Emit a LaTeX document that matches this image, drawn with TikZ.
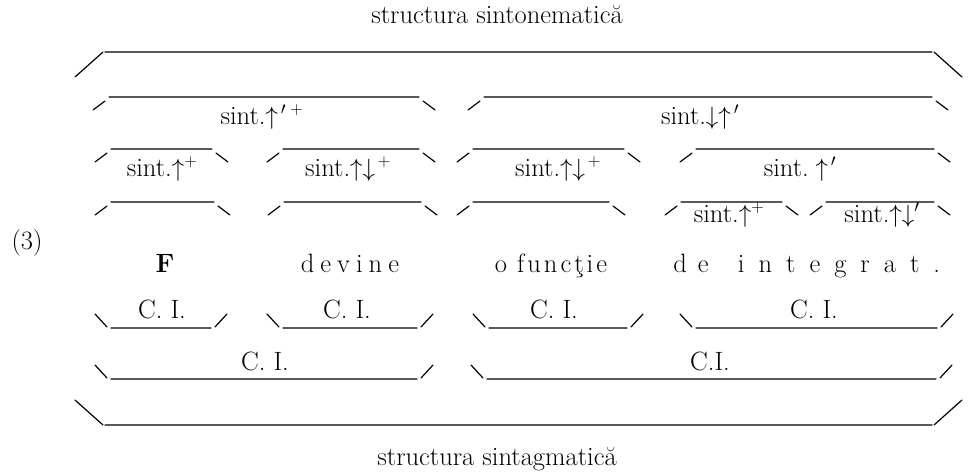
\documentclass[tikz,border=0pt]{standalone}
\usepackage{fontspec}
\newcommand\upgen[8]{%
  \coordinate (#1-a) at ({#2},{#4+#7+#6});
  \coordinate (#1-b) at ({#2+#5},{#4+#7});
  \coordinate (#1-c) at ({#2+#5+#8},{#4});
  \coordinate (#1-d) at ({#3-#5-#8},{#4});
  \coordinate (#1-e) at ({#3-#5},{#4+#7});
  \coordinate (#1-f) at ({#3},{#4+#7+#6});
  \draw[brk] (#1-a) -- (#1-b) (#1-c) -- (#1-d) (#1-e) -- (#1-f);}
\newcommand\lowgen[8]{%
  \coordinate (#1-a) at ({#2},{#4-#7-#6});
  \coordinate (#1-b) at ({#2+#5},{#4-#7});
  \coordinate (#1-c) at ({#2+#5+#8},{#4});
  \coordinate (#1-d) at ({#3-#5-#8},{#4});
  \coordinate (#1-e) at ({#3-#5},{#4-#7});
  \coordinate (#1-f) at ({#3},{#4-#7-#6});
  \draw[brk] (#1-a) -- (#1-b) (#1-c) -- (#1-d) (#1-e) -- (#1-f);}
\newcommand\upbr[4]{\upgen{#1}{#2}{#3}{#4}{12}{9}{4}{4}}
\newcommand\lowbr[4]{\lowgen{#1}{#2}{#3}{#4}{12}{13}{1}{4}}
\newcommand\lsp[1]{\kern#1pt\relax}
\begin{document}
\begin{tikzpicture}[x=1pt,y=-1pt,
  brk/.style={line width=1.2pt, line cap=round},
  txt/.style={font=\fontsize{26.5}{30}\selectfont, inner sep=0pt, anchor=base}]
\useasboundingbox (0,0) rectangle (980,474);
% titles
\node[txt] (ttop) at (497,23) {structura sintonematică};
\node[txt] (tbot) at (497,465) {structura sintagmatică};
\node[txt] (num) at (27,249) {(3)};
% row 1
\upgen{r1}{75}{962}{52}{28}{25}{0}{2}
% row 2
\upbr{r2a}{93}{435}{97}
\upbr{r2b}{468}{948}{97}
\node[txt] (s2a) at (262,124) {sint.$\uparrow^{\,\prime\;+}$};
\node[txt] (s2b) at (700,124) {sint.$\downarrow\uparrow^{\,\prime}$};
% row 3
\upbr{r3a}{95}{228}{149}
\upbr{r3b}{267}{435}{149}
\upbr{r3c}{457}{640}{149}
\upbr{r3d}{680}{950}{149}
\node[txt] (s3a) at (162,176) {sint.$\uparrow^{+}$};
\node[txt] (s3b) at (348,176) {sint.$\uparrow\downarrow^{\,+}$};
\node[txt] (s3c) at (558,176) {sint.$\uparrow\downarrow^{\,+}$};
\node[txt] (s3d) at (800,176) {sint.$\;\uparrow^{\,\prime}$};
% row 4
\upbr{r4a}{95}{230}{202}
\upbr{r4b}{268}{437}{202}
\upbr{r4c}{457}{625}{202}
\upbr{r4d}{665}{798}{202}
\upbr{r4e}{810}{950}{202}
\node[txt] (s4d) at (729,222) {sint.$\uparrow^{+}$};
\node[txt] (s4e) at (882,222) {sint.$\uparrow\downarrow^{\prime}$};
% words
\node[txt] (w1) at (165,272) {\textbf{F}};
\node[txt] (w2) at (350,272) {d\lsp{6}e\lsp{6}v\lsp{6}i\lsp{6}n\lsp{6}e};
\node[txt] (w3) at (551,272) {o\ \lsp{2}f\lsp{3}u\lsp{3}n\lsp{3}c\lsp{3}ţ\lsp{3}i\lsp{3}e};
\node[txt] (w4) at (691,272) {d\lsp{11}e};
\node[txt] (w5) at (839,272) {i\lsp{14}n\lsp{14}t\lsp{14}e\lsp{14}g\lsp{14}r\lsp{14}a\lsp{14}t\lsp{14}.};
% C.I. row 1
\lowbr{c1a}{95}{227}{328}
\lowbr{c1b}{267}{433}{328}
\lowbr{c1c}{473}{643}{328}
\lowbr{c1d}{680}{953}{328}
\node[txt] (ci1a) at (162,318) {C. I.};
\node[txt] (ci1b) at (347,318) {C. I.};
\node[txt] (ci1c) at (554,318) {C. I.};
\node[txt] (ci1d) at (814,318) {C. I.};
% C.I. row 2
\lowbr{c2a}{95}{433}{379}
\lowbr{c2b}{471}{952}{379}
\node[txt] (ci2a) at (265,370) {C. I.};
\node[txt] (ci2b) at (710,370) {C.I.};
% bottom
\lowgen{r9}{75}{962}{425}{28}{25}{0}{2}
\end{tikzpicture}
\end{document}
